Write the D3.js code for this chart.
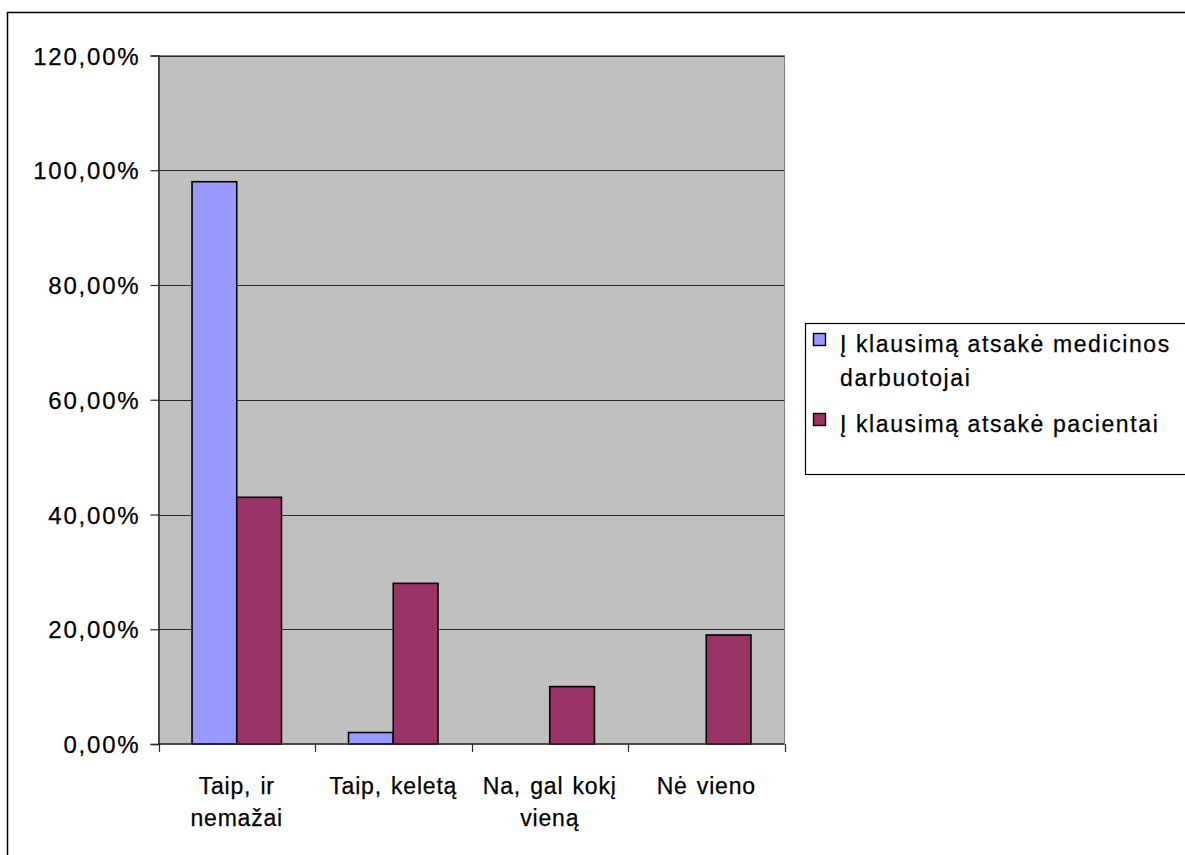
<!DOCTYPE html>
<html>
<head>
<meta charset="utf-8">
<script src="https://cdn.jsdelivr.net/npm/d3@7"></script>
<style>
  html, body { margin: 0; padding: 0; background: #ffffff; }
  svg { display: block; }
  text { font-family: "Liberation Sans", Arial, sans-serif; fill: #000; }
</style>
</head>
<body>
<svg id="chart" width="1185" height="855"></svg>
<script>
// Survey answers by respondent group
const categories = [["Taip, ir", "nemažai"], ["Taip, keletą"], ["Na, gal kokį", "vieną"], ["Nė vieno"]];
const seriesNames = ["Į klausimą atsakė medicinos darbuotojai", "Į klausimą atsakė pacientai"];
const legendLines = [["Į klausimą atsakė medicinos", "darbuotojai"], ["Į klausimą atsakė pacientai"]];
const medicalStaff = [0.98, 0.02, 0, 0];
const patients = [0.43, 0.28, 0.10, 0.19];
const yTicks = [0, 0.2, 0.4, 0.6, 0.8, 1.0, 1.2];
const seriesColors = ["#9999FF", "#993366"];

const seriesValues = [medicalStaff, patients];
const catKeys = categories.map(c => c.join(" "));

const svg = d3.select("#chart");

// outer chart frame
svg.append("rect")
  .attr("x", 7.5).attr("y", 12.5)
  .attr("width", 1200).attr("height", 900)
  .attr("fill", "#fff").attr("stroke", "#000").attr("stroke-width", 1.5);

const plot = { left: 158.5, right: 784.5, top: 55.5, bottom: 744 };

const y = d3.scaleLinear().domain([0, 1.2]).range([plot.bottom, plot.top]);
const x0 = d3.scaleBand().domain(catKeys).range([plot.left, plot.right])
  .paddingInner(0).paddingOuter(0);
const x1 = d3.scaleBand().domain(d3.range(seriesValues.length)).range([0, x0.bandwidth()])
  .paddingInner(0).paddingOuter(0.75);

const pct = d3.formatLocale({ decimal: ",", thousands: "\u00a0", grouping: [3], currency: ["", " €"] }).format(".2%");

// plot area
svg.append("rect")
  .attr("x", plot.left).attr("y", plot.top)
  .attr("width", plot.right - plot.left).attr("height", plot.bottom - plot.top)
  .attr("fill", "#C0C0C0").attr("stroke", "#808080").attr("stroke-width", 1);

// horizontal gridlines
svg.append("g")
  .selectAll("line")
  .data(yTicks.filter(t => t > 0))
  .join("line")
  .attr("x1", plot.left).attr("x2", plot.right)
  .attr("y1", d => Math.round(y(d)) + 0.5).attr("y2", d => Math.round(y(d)) + 0.5)
  .attr("stroke", "#2a2a2a").attr("stroke-width", 1);

// bars
const groups = svg.append("g")
  .selectAll("g")
  .data(catKeys)
  .join("g")
  .attr("transform", d => `translate(${x0(d)},0)`);

groups.selectAll("rect")
  .data((d, i) => seriesValues.map((vals, s) => ({ s, v: vals[i] })).filter(e => e.v > 0))
  .join("rect")
  .attr("x", e => x1(e.s))
  .attr("width", x1.bandwidth())
  .attr("y", e => y(e.v))
  .attr("height", e => y(0) - y(e.v))
  .attr("fill", e => seriesColors[e.s])
  .attr("stroke", "#000").attr("stroke-width", 1.6);

// y axis
const yAxis = d3.axisLeft(y).tickValues(yTicks).tickFormat(pct).tickSize(8).tickPadding(10);
const gy = svg.append("g").attr("transform", `translate(${plot.left},0)`).call(yAxis);
gy.select(".domain").attr("stroke", "#2a2a2a").attr("stroke-width", 1.5);
gy.selectAll(".tick line").attr("stroke", "#2a2a2a").attr("stroke-width", 1.2);
gy.selectAll(".tick text")
  .attr("font-size", 24).attr("font-family", "Liberation Sans, Arial, sans-serif")
  .style("letter-spacing", "1.8px").attr("dy", "0.36em").attr("fill", "#000")
  .attr("stroke", "#000").attr("stroke-width", 0.25);

// x axis: ticks at category boundaries
const boundaries = catKeys.map(k => x0(k)).concat([plot.right]);
const gx = svg.append("g");
gx.append("line")
  .attr("x1", plot.left).attr("x2", plot.right)
  .attr("y1", plot.bottom).attr("y2", plot.bottom)
  .attr("stroke", "#2a2a2a").attr("stroke-width", 1.5);
gx.selectAll("line.tk")
  .data(boundaries)
  .join("line")
  .attr("class", "tk")
  .attr("x1", d => Math.round(d) + 0.5).attr("x2", d => Math.round(d) + 0.5)
  .attr("y1", plot.bottom).attr("y2", plot.bottom + 8)
  .attr("stroke", "#2a2a2a").attr("stroke-width", 1.2);

const xl = gx.selectAll("text.cat")
  .data(categories)
  .join("text")
  .attr("class", "cat")
  .attr("text-anchor", "middle")
  .attr("font-size", 23)
  .attr("stroke", "#000").attr("stroke-width", 0.25)
  .style("letter-spacing", "0.8px")
  .style("word-spacing", "2px")
  .attr("x", (d, i) => x0(catKeys[i]) + x0.bandwidth() / 2)
  .attr("y", 794);
xl.selectAll("tspan")
  .data(d => d)
  .join("tspan")
  .attr("x", function () { return d3.select(this.parentNode).attr("x"); })
  .attr("dy", (d, i) => i === 0 ? 0 : 32)
  .text(d => d);

// legend
const legend = svg.append("g");
legend.append("rect")
  .attr("x", 805.5).attr("y", 323.5)
  .attr("width", 400).attr("height", 151)
  .attr("fill", "#fff").attr("stroke", "#000").attr("stroke-width", 1.2);

const entryTop = [352, 432];
seriesNames.forEach((name, s) => {
  const base = entryTop[s];
  legend.append("rect")
    .attr("x", 813.5).attr("y", base - 18.5)
    .attr("width", 12).attr("height", 12)
    .attr("fill", seriesColors[s]).attr("stroke", "#000").attr("stroke-width", 1.4);
  const t = legend.append("text")
    .attr("x", 840).attr("y", base)
    .attr("font-size", 23)
    .attr("stroke", "#000").attr("stroke-width", 0.25)
    .style("letter-spacing", "1.6px");
  t.selectAll("tspan")
    .data(legendLines[s])
    .join("tspan")
    .attr("x", 840)
    .attr("dy", (d, i) => i === 0 ? 0 : 34)
    .text(d => d);
});
</script>
</body>
</html>
